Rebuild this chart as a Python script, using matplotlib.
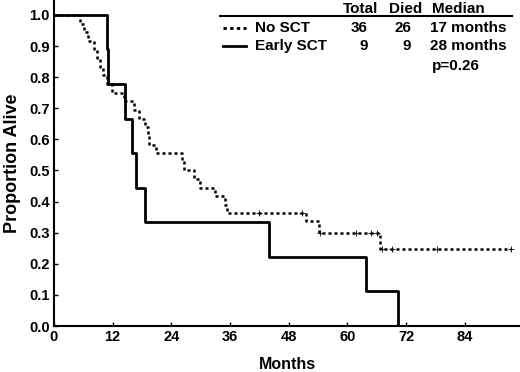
import matplotlib
matplotlib.use('Agg')
import matplotlib.pyplot as plt

plt.rcParams['font.family'] = ['Liberation Sans', 'DejaVu Sans']
plt.rcParams['font.weight'] = 'bold'

# No SCT: step times (months) and survival after each step
no_sct_t = [0, 5.3, 6.2, 7.0, 8.2, 8.8, 9.4, 10.1, 10.8, 11.8, 14.3, 16.4, 17.4,
            18.6, 19.2, 19.4, 20.9, 26.2, 26.6, 28.6, 29.9, 33.0, 34.9, 35.3,
            51.6, 54.2, 66.7, 93.4]
no_sct_s = [1.0, 0.972, 0.944, 0.917, 0.889, 0.861, 0.833, 0.806, 0.778, 0.750,
            0.722, 0.694, 0.667, 0.639, 0.611, 0.583, 0.556, 0.528, 0.500, 0.472,
            0.444, 0.417, 0.389, 0.363, 0.336, 0.298, 0.248, 0.248]
# censored observations
no_sct_cens_t = [41.9, 50.8, 54.4, 61.7, 64.8, 66.1, 67.0, 69.2, 78.4, 93.4]
no_sct_cens_s = [0.363, 0.363, 0.298, 0.298, 0.298, 0.298, 0.248, 0.248, 0.248, 0.248]

# Early SCT: 9 patients, all died
early_t = [0, 10.8, 11.1, 14.5, 15.9, 16.8, 18.6, 43.9, 63.9, 70.4]
early_s = [1.0, 0.889, 0.778, 0.667, 0.556, 0.444, 0.333, 0.222, 0.111, 0.0]

headers = ['Total', 'Died', 'Median']
groups = ['No SCT', 'Early SCT']
totals = [36, 9]
died = [26, 9]
medians = ['17 months', '28 months']
p_text = 'p=0.26'

fig = plt.figure(figsize=(5.2, 3.72), dpi=100)
ax = fig.add_axes([54 / 520, 46 / 372, 466 / 520, 326 / 372])

ax.step(no_sct_t, no_sct_s, where='post', color='black', lw=1.8, ls=(0, (1.2, 1.2)))
ax.plot(no_sct_cens_t, no_sct_cens_s, '+', color='black', ms=5, mew=0.6)
ax.step(early_t, early_s, where='post', color='black', lw=2.0)

ax.set_xlim(0, 95.3)
ax.set_ylim(0, 1.048)
ax.set_xticks(range(0, 96, 12))
ax.set_yticks([i / 10 for i in range(11)])
ax.set_yticklabels([f'{i / 10:.1f}' for i in range(11)])
ax.tick_params(direction='in', length=3, width=1, labelsize=10.5, pad=3)
for lab in ax.get_xticklabels() + ax.get_yticklabels():
    lab.set_fontweight('bold')
for side in ['top', 'right']:
    ax.spines[side].set_visible(False)
for side in ['left', 'bottom']:
    ax.spines[side].set_linewidth(1.5)

ax.set_xlabel('Months', fontsize=11.5, fontweight='bold', labelpad=9)
ax.set_ylabel('Proportion Alive', fontsize=13, fontweight='bold', labelpad=6)

# legend table in figure pixel coords
def fx(x):
    return x / 520

def fy(y):
    return 1 - y / 372

fs = 11
fig.text(fx(378), fy(9), headers[0], ha='right', va='center', fontsize=fs, fontweight='bold')
fig.text(fx(422), fy(9), headers[1], ha='right', va='center', fontsize=fs, fontweight='bold')
fig.text(fx(432), fy(9), headers[2], ha='left', va='center', fontsize=fs, fontweight='bold')
fig.add_artist(plt.Line2D([fx(220), fx(512)], [fy(16), fy(16)], color='black', lw=1.5))

rows_y = [28, 46]
styles = [(0, (1.2, 1.2)), '-']
for i, g in enumerate(groups):
    y = rows_y[i]
    fig.add_artist(plt.Line2D([fx(223), fx(246)], [fy(y), fy(y)], color='black',
                              lw=2.0, ls=styles[i]))
    fig.text(fx(255), fy(y), g, ha='left', va='center', fontsize=fs, fontweight='bold')
    fig.text(fx(368), fy(y), str(totals[i]), ha='right', va='center', fontsize=fs, fontweight='bold')
    fig.text(fx(411), fy(y), str(died[i]), ha='right', va='center', fontsize=fs, fontweight='bold')
    fig.text(fx(430), fy(y), medians[i], ha='left', va='center', fontsize=fs, fontweight='bold')
fig.text(fx(432), fy(66), p_text, ha='left', va='center', fontsize=fs, fontweight='bold')

fig.savefig('out.png', dpi=100)
